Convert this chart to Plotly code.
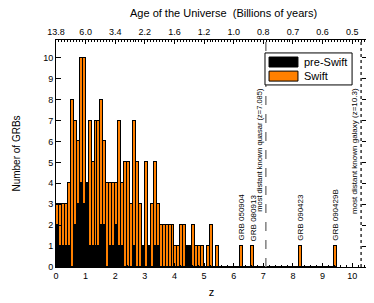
import plotly.graph_objects as go

# ---- data (bins of width 0.1 in redshift z) ----
bin_start = [round(0.1 * i, 1) for i in range(95)]
total_low = [3, 3, 3, 3, 4, 8, 7, 6, 10, 10,
             4, 7, 5, 7, 7, 8, 6, 4, 4, 4,
             4, 7, 4, 5, 5, 3, 7, 5, 3, 1,
             5, 1, 3, 5, 3, 2, 2, 2, 2, 2,
             1, 1, 2, 2, 1, 1, 2, 1, 1, 1,
             0, 1, 2, 0, 1]
pre_low = [2, 1, 1, 1, 1, 0, 2, 3, 4, 3,
           4, 1, 1, 1, 1, 2, 2, 0, 1, 1,
           2, 1, 1, 0, 0, 0, 1, 0, 0, 1,
           0, 1, 0, 1, 1, 0, 0, 0, 0, 0,
           0, 0, 0, 0, 1, 1, 0, 0, 0, 0,
           0, 0, 0, 0, 0]
high_z_bins = {62: 1, 66: 1, 82: 1, 94: 1}   # GRB 050904, 080913, 090423, 090429B

total = total_low + [0] * (95 - len(total_low))
for b, v in high_z_bins.items():
    total[b] = v
pre_swift = pre_low + [0] * (95 - len(pre_low))
swift = [t - p for t, p in zip(total, pre_swift)]

age_ticks_z = [0, 1, 2, 3, 4, 5, 6, 7, 8, 9, 10]
age_labels = ["13.8", "6.0", "3.4", "2.2", "1.6", "1.2", "1.0", "0.8", "0.7", "0.6", "0.5"]

grb_labels = [("GRB 050904", 6.25), ("GRB 080913", 6.65), ("GRB 090423", 8.25), ("GRB 090429B", 9.45)]
z_quasar = 7.085
z_galaxy = 10.3

FONT = "Liberation Sans, Arial, sans-serif"
ORANGE = "#FF8000"

fig = go.Figure()
xc = [b + 0.05 for b in bin_start]
fig.add_trace(go.Bar(x=xc, y=pre_swift, width=0.1, name="pre-Swift",
                     marker=dict(color="black", line=dict(color="black", width=1.2)),
                     showlegend=False))
fig.add_trace(go.Bar(x=xc, y=swift, width=0.1, name="Swift",
                     marker=dict(color=ORANGE, line=dict(color="black", width=1.2)),
                     showlegend=False))
# dummy trace to activate top axis
fig.add_trace(go.Scatter(x=[0, 10.5], y=[None, None], xaxis="x2", showlegend=False,
                         hoverinfo="skip"))

# page body has an 8px default margin -> figure is 8px smaller and shifted
fig.update_layout(
    width=366, height=295,
    margin=dict(l=48, r=7, t=32, b=36),
    paper_bgcolor="white", plot_bgcolor="white",
    barmode="stack", bargap=0,
    font=dict(family=FONT, size=9, color="black"),
    xaxis=dict(range=[0, 10.5], tickvals=list(range(11)), ticks="inside", ticklen=4,
               tickwidth=1, tickcolor="black", automargin=False,
               minor=dict(dtick=0.2, ticks="inside", ticklen=2, tickcolor="black"),
               showline=True, linecolor="black", linewidth=1, showgrid=False, zeroline=False,
               title=dict(text="z", font=dict(size=11), standoff=8),
               tickfont=dict(size=9)),
    xaxis2=dict(range=[0, 10.5], overlaying="x", side="top", tickvals=age_ticks_z,
                ticktext=age_labels, ticks="inside", ticklen=4, tickcolor="black",
                automargin=False,
                minor=dict(dtick=0.1, ticks="inside", ticklen=2, tickcolor="black"),
                showline=True, linecolor="black", linewidth=1, showgrid=False, zeroline=False,
                tickfont=dict(size=9)),
    yaxis=dict(range=[0, 10.85], dtick=1, ticks="inside", ticklen=5, tickcolor="black",
               showline=True, mirror="ticks", linecolor="black", linewidth=1,
               showgrid=False, zeroline=False, automargin=False,
               title=dict(text="Number of GRBs", font=dict(size=10), standoff=20),
               tickfont=dict(size=9)),
)

# reference lines
fig.add_shape(type="line", xref="x", yref="paper", x0=z_quasar, x1=z_quasar, y0=0, y1=1,
              line=dict(color="#808080", width=1.5, dash="dash"))
fig.add_shape(type="line", xref="x", yref="paper", x0=z_galaxy, x1=z_galaxy, y0=0, y1=1,
              line=dict(color="black", width=1.2, dash="dot"))

fig.add_annotation(text="most distant known quasar (z=7.085)", x=z_quasar - 0.02, y=8.65,
                   xref="x", yref="y", textangle=-90, xanchor="right", yanchor="top",
                   showarrow=False, font=dict(size=7.5))
fig.add_annotation(text="most distant known galaxy (z=10.3)", x=z_galaxy - 0.02, y=8.65,
                   xref="x", yref="y", textangle=-90, xanchor="right", yanchor="top",
                   showarrow=False, font=dict(size=8))
for txt, zz in grb_labels:
    fig.add_annotation(text=txt, x=zz, y=1.15, xref="x", yref="y", textangle=-90,
                       xanchor="center", yanchor="bottom", showarrow=False,
                       font=dict(size=8))

# title of top axis
fig.add_annotation(text="Age of the Universe  (Billions of years)", x=0.54, y=1.12,
                   xref="paper", yref="paper", showarrow=False, xanchor="center",
                   yanchor="middle", font=dict(size=11))

# manual legend
fig.add_shape(type="rect", xref="paper", yref="paper", x0=0.672, x1=0.952, y0=0.802, y1=0.943,
              line=dict(color="black", width=1), fillcolor="white")
fig.add_shape(type="rect", xref="paper", yref="paper", x0=0.685, x1=0.778, y0=0.881, y1=0.925,
              line=dict(color="black", width=1), fillcolor="black")
fig.add_shape(type="rect", xref="paper", yref="paper", x0=0.685, x1=0.778, y0=0.819, y1=0.863,
              line=dict(color="black", width=1), fillcolor=ORANGE)
fig.add_annotation(text="pre-Swift", x=0.79, y=0.903, xref="paper", yref="paper",
                   xanchor="left", yanchor="middle", showarrow=False, font=dict(size=11))
fig.add_annotation(text="Swift", x=0.79, y=0.841, xref="paper", yref="paper",
                   xanchor="left", yanchor="middle", showarrow=False, font=dict(size=11))

fig.write_html("out.html")
